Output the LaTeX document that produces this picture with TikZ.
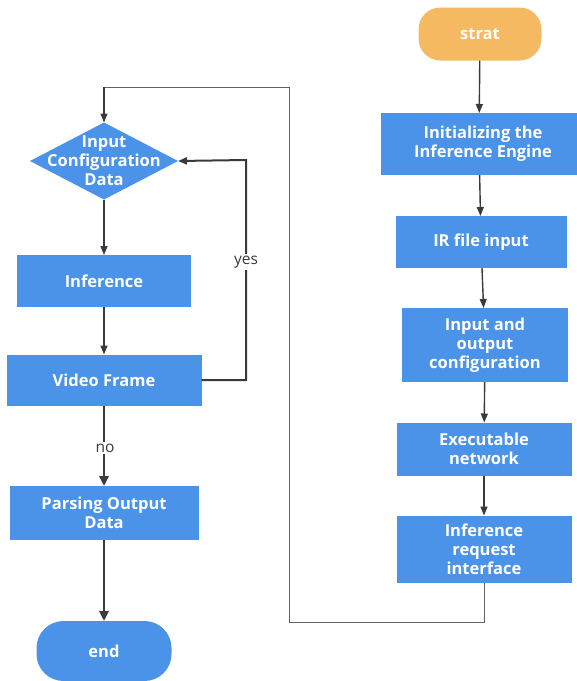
\documentclass[tikz,border=0pt]{standalone}
\usepackage{fontspec}
\setmainfont{Open Sans}
\usetikzlibrary{arrows.meta,shapes.geometric}
\definecolor{boxblue}{HTML}{4A93E8}
\definecolor{pillorange}{HTML}{F4B961}
\definecolor{linegray}{HTML}{3A3A3A}
\begin{document}
\begin{tikzpicture}[x=1pt,y=-1pt,
  every node/.style={inner sep=0pt,outer sep=0pt},
  txt/.style={text=white,font=\fontsize{16.5}{19}\selectfont\bfseries,align=center},
  procbox/.style={txt,fill=boxblue,rectangle},
  pill/.style={txt,rounded corners=22pt},
  decision/.style={fill=boxblue,diamond,aspect=1.92},
  flow/.style={draw=linegray,line width=1.4pt,-{Triangle[length=9pt,width=7pt]}},
  bold flow/.style={flow,line width=2.6pt,-{Triangle[length=10pt,width=9pt]}},
  loop/.style={draw=linegray!80,line width=1pt},
  lbl/.style={fill=white,font=\fontsize{15.5}{17}\selectfont,text=linegray,inner sep=2pt}]
\useasboundingbox (0,0) rectangle (577,681);

% right column
\node[pill,fill=pillorange,minimum width=123pt,minimum height=53pt] (start) at (480,34) {strat};
\node[procbox,minimum width=196pt,minimum height=62pt] (init) at (479,144) {\hspace*{8pt}Initializing the\\\hspace*{8pt}Inference Engine};
\node[procbox,minimum width=171pt,minimum height=52pt] (ir) at (481,242) {IR file input};
\node[procbox,minimum width=166pt,minimum height=74pt] (io) at (485,345) {Input and\\output\\configuration};
\node[procbox,minimum width=175pt,minimum height=53pt] (exec) at (484,449) {Executable\\network};
\node[procbox,minimum width=175pt,minimum height=67pt] (req) at (484,549) {Inference\\request\\interface};

% left column
\node[decision,minimum width=148pt,minimum height=77pt] (cfg) at (104,161) {};
\node[txt] (cfgtext) at (104,161) {Input\\Configuration\\Data};
\node[procbox,minimum width=174pt,minimum height=52pt] (inf) at (104,281) {Inference};
\node[procbox,minimum width=195pt,minimum height=51pt] (vf) at (104,380) {Video Frame};
\node[procbox,minimum width=189pt,minimum height=54pt] (parse) at (104,513) {Parsing Output\\Data};
\node[pill,fill=boxblue,minimum width=135pt,minimum height=60pt,rounded corners=27pt] (end) at (104,651) {end};

% connectors, right column
\draw[flow] (start) -- (init);
\draw[flow] (init) -- (ir);
\draw[flow] (ir) -- (io);
\draw[flow] (io) -- (exec);
\draw[flow] (exec) -- (req);

% return path to the configuration step
\coordinate (r1) at (req.south |- 0,622);
\coordinate (r2) at (289,622);
\coordinate (r3) at (289,87);
\coordinate (r4) at (cfg.north |- 0,87);
\draw[loop] (req.south) -- (r1) -- (r2) -- (r3) -- (r4);
\draw[flow,line width=1.2pt] (r4) -- (cfg.north);

% connectors, left column
\draw[flow] (cfg) -- (inf);
\draw[flow] (inf) -- (vf);
\coordinate (y1) at (246,380);
\coordinate (y2) at (246,160);
\draw[flow,line width=2pt] (vf.east) -- (y1) -- (y2) -- (cfg.east);
\node[lbl] at (246,262) {yes};
\draw[bold flow] (vf) -- (parse);
\node[lbl] at (105,448) {no};
\draw[bold flow] (parse) -- (end);
\end{tikzpicture}
\end{document}
